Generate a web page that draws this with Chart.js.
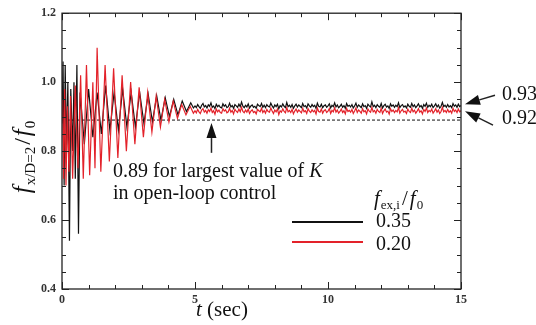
<!DOCTYPE html>
<html>
<head>
<meta charset="utf-8">
<script src="https://cdn.jsdelivr.net/npm/chart.js@4.4.1/dist/chart.umd.min.js"></script>
<style>
  html, body { margin: 0; padding: 0; background: #fff; }
  #wrap { width: 536px; height: 325px; }
</style>
</head>
<body>
<div id="wrap"><canvas id="chart"></canvas></div>
<script>
// transient part (peaks and troughs)
const blackT = [0.00,0.04,0.08,0.12,0.17,0.22,0.28,0.33,0.40,0.45,0.50,0.56,0.62,0.68,0.84,1.00,1.16,1.32,1.48,1.64,1.80,1.96,2.12,2.28,2.44,2.60,2.76,2.92,3.08,3.24,3.40,3.56,3.72,3.88,4.04,4.20,4.36,4.52,4.68,4.84,4.94];
const blackV = [0.88,1.06,0.70,1.05,0.80,1.00,0.54,0.98,0.80,1.00,0.72,1.05,0.56,0.97,0.82,0.98,0.84,0.97,0.85,0.99,0.86,0.97,0.86,0.98,0.87,0.97,0.87,0.97,0.88,0.965,0.885,0.96,0.89,0.955,0.90,0.95,0.905,0.945,0.915,0.94,0.925];
const redT = [0.02,0.06,0.10,0.15,0.20,0.26,0.32,0.40,0.50,0.60,0.70,0.80,0.92,1.04,1.16,1.24,1.32,1.46,1.62,1.78,1.94,2.10,2.26,2.42,2.58,2.74,2.90,3.06,3.22,3.38,3.54,3.70,3.86,4.02,4.18,4.34,4.50,4.66,4.82,4.94];
const redV = [0.95,0.72,0.98,0.70,0.93,0.74,0.96,0.72,0.99,0.75,1.02,0.72,1.05,0.73,1.00,0.75,1.10,0.74,1.05,0.77,1.04,0.78,1.02,0.80,1.00,0.82,0.985,0.84,0.97,0.855,0.96,0.87,0.95,0.885,0.945,0.895,0.935,0.905,0.93,0.91];

// steady part, sampled every 0.05 s from 5 s to 15 s
const steadyStart = 5.0;
const steadyStep = 0.05;
const blackSteady = [
  0.931,0.926,0.935,0.929,0.924,0.933,0.938,0.928,0.932,0.925,
  0.934,0.930,0.940,0.927,0.931,0.923,0.936,0.929,0.933,0.927,
  0.925,0.937,0.930,0.934,0.926,0.929,0.939,0.928,0.932,0.924,
  0.935,0.931,0.927,0.936,0.929,0.942,0.930,0.926,0.933,0.928,
  0.937,0.925,0.931,0.934,0.927,0.930,0.924,0.936,0.932,0.929,
  0.938,0.927,0.933,0.926,0.935,0.930,0.928,0.939,0.931,0.925,
  0.934,0.929,0.936,0.923,0.932,0.928,0.937,0.930,0.926,0.941,
  0.929,0.933,0.927,0.935,0.924,0.931,0.936,0.928,0.934,0.930,
  0.926,0.938,0.929,0.932,0.925,0.937,0.931,0.927,0.935,0.929,
  0.933,0.924,0.939,0.930,0.928,0.936,0.926,0.932,0.934,0.927,
  0.931,0.937,0.925,0.933,0.929,0.940,0.928,0.934,0.926,0.930,
  0.936,0.927,0.932,0.924,0.938,0.930,0.933,0.928,0.935,0.925,
  0.931,0.939,0.927,0.934,0.930,0.926,0.937,0.929,0.932,0.924,
  0.936,0.931,0.928,0.943,0.929,0.933,0.926,0.935,0.930,0.927,
  0.938,0.925,0.932,0.936,0.928,0.931,0.924,0.937,0.930,0.934,
  0.927,0.933,0.929,0.940,0.926,0.932,0.935,0.928,0.931,0.925,
  0.936,0.930,0.927,0.938,0.929,0.934,0.926,0.931,0.937,0.928,
  0.932,0.924,0.935,0.930,0.939,0.927,0.933,0.929,0.936,0.926,
  0.931,0.937,0.928,0.934,0.925,0.930,0.941,0.929,0.933,0.927,
  0.935,0.928,0.932,0.926,0.938,0.930,0.934,0.927,0.936,0.929,
  0.932
];
const redSteady = [
  0.917,0.911,0.921,0.914,0.909,0.919,0.923,0.913,0.918,0.910,
  0.920,0.915,0.925,0.912,0.917,0.907,0.922,0.914,0.919,0.912,
  0.910,0.923,0.916,0.920,0.911,0.914,0.924,0.913,0.918,0.908,
  0.921,0.916,0.912,0.922,0.914,0.927,0.915,0.911,0.919,0.913,
  0.922,0.909,0.916,0.920,0.912,0.915,0.908,0.921,0.917,0.914,
  0.924,0.912,0.918,0.910,0.921,0.915,0.913,0.925,0.916,0.909,
  0.919,0.914,0.922,0.906,0.917,0.913,0.923,0.915,0.911,0.926,
  0.914,0.918,0.912,0.921,0.908,0.916,0.922,0.913,0.919,0.915,
  0.911,0.924,0.914,0.917,0.909,0.923,0.916,0.912,0.920,0.914,
  0.918,0.908,0.925,0.915,0.913,0.922,0.910,0.917,0.920,0.912,
  0.916,0.923,0.909,0.918,0.914,0.926,0.913,0.919,0.910,0.915,
  0.922,0.912,0.917,0.908,0.924,0.915,0.918,0.913,0.921,0.909,
  0.916,0.925,0.912,0.919,0.915,0.910,0.923,0.914,0.917,0.908,
  0.922,0.916,0.913,0.927,0.914,0.918,0.910,0.921,0.915,0.912,
  0.924,0.909,0.917,0.922,0.913,0.916,0.907,0.923,0.915,0.919,
  0.912,0.918,0.914,0.926,0.910,0.917,0.921,0.913,0.916,0.909,
  0.922,0.915,0.912,0.924,0.914,0.919,0.910,0.916,0.923,0.913,
  0.917,0.908,0.921,0.915,0.925,0.912,0.918,0.914,0.922,0.910,
  0.916,0.923,0.913,0.919,0.909,0.915,0.927,0.914,0.918,0.912,
  0.921,0.913,0.917,0.910,0.924,0.915,0.919,0.912,0.922,0.914,
  0.917
];

const xTicks = [0, 5, 10, 15];
const yTicks = [0.4, 0.6, 0.8, 1.0, 1.2];
const openLoopRef = 0.89;
const legendLabels = ['0.35', '0.20'];
const finalLabels = ['0.93', '0.92'];

const BLACK = '#111111';
const RED = '#e3222a';
const SERIF = '"Liberation Serif", "DejaVu Serif", serif';

function toPoints(ts, vs, steady) {
  const pts = ts.map((t, i) => ({ x: t, y: vs[i] }));
  steady.forEach((v, i) => pts.push({ x: +(steadyStart + i * steadyStep).toFixed(2), y: v }));
  return pts;
}

// draws a run of text pieces (italic / subscript) starting at x
function richText(ctx, parts, x, y, align) {
  let total = 0;
  parts.forEach(p => {
    ctx.font = (p.it ? 'italic ' : '') + p.size + 'px ' + SERIF;
    p.w = ctx.measureText(p.t).width;
    total += p.w + (p.gap || 0);
  });
  let cx = align === 'center' ? x - total / 2 : x;
  ctx.textAlign = 'left';
  ctx.textBaseline = 'alphabetic';
  parts.forEach(p => {
    ctx.font = (p.it ? 'italic ' : '') + p.size + 'px ' + SERIF;
    ctx.fillText(p.t, cx, y + (p.dy || 0));
    cx += p.w + (p.gap || 0);
  });
}

function arrow(ctx, x1, y1, x2, y2, len, wid) {
  const a = Math.atan2(y2 - y1, x2 - x1);
  const bx = x2 - len * Math.cos(a), by = y2 - len * Math.sin(a);
  ctx.beginPath();
  ctx.moveTo(x1, y1);
  ctx.lineTo(bx, by);
  ctx.lineWidth = 1.5;
  ctx.stroke();
  ctx.beginPath();
  ctx.moveTo(x2, y2);
  ctx.lineTo(bx + wid / 2 * Math.sin(a), by - wid / 2 * Math.cos(a));
  ctx.lineTo(bx - wid / 2 * Math.sin(a), by + wid / 2 * Math.cos(a));
  ctx.closePath();
  ctx.fill();
}

const decor = {
  id: 'decor',
  beforeDatasetsDraw(chart) {
    const { ctx, chartArea: a, scales: { y } } = chart;
    const py = y.getPixelForValue(openLoopRef);
    ctx.save();
    ctx.strokeStyle = BLACK;
    ctx.lineWidth = 1;
    ctx.setLineDash([3, 2]);
    ctx.beginPath();
    ctx.moveTo(a.left, py);
    ctx.lineTo(a.right, py);
    ctx.stroke();
    ctx.restore();
  },
  afterDraw(chart) {
    const { ctx, chartArea: a, scales: { x, y } } = chart;
    ctx.save();
    ctx.strokeStyle = '#222';
    ctx.fillStyle = BLACK;

    // frame
    ctx.lineWidth = 1.3;
    ctx.strokeRect(a.left, a.top, a.right - a.left, a.bottom - a.top);

    // inward ticks
    ctx.lineWidth = 1;
    ctx.beginPath();
    for (let t = 0; t <= 15; t++) {
      const px = Math.round(x.getPixelForValue(t)) + 0.5;
      const l = t % 5 === 0 ? 7 : 4;
      ctx.moveTo(px, a.bottom); ctx.lineTo(px, a.bottom - l);
      ctx.moveTo(px, a.top); ctx.lineTo(px, a.top + l);
    }
    for (let k = 0; k <= 16; k++) {
      const v = 0.4 + k * 0.05;
      const py = Math.round(y.getPixelForValue(v)) + 0.5;
      const l = k % 4 === 0 ? 7 : 4;
      ctx.moveTo(a.left, py); ctx.lineTo(a.left + l, py);
      ctx.moveTo(a.right, py); ctx.lineTo(a.right - l, py);
    }
    ctx.stroke();

    // arrow to the open-loop level
    const ax = x.getPixelForValue(5.62);
    arrow(ctx, ax, y.getPixelForValue(0.795), ax, y.getPixelForValue(openLoopRef) + 3, 15, 10);

    // arrows to final levels
    arrow(ctx, a.right + 34, a.top + 82, a.right + 4, a.top + 91, 15, 10);
    arrow(ctx, a.right + 32, a.top + 112, a.right + 4, a.top + 98, 15, 10);

    ctx.fillStyle = BLACK;
    richText(ctx, [{ t: finalLabels[0], size: 20 }], a.right + 41, a.top + 87);
    richText(ctx, [{ t: finalLabels[1], size: 20 }], a.right + 41, a.top + 111);

    // annotation
    richText(ctx, [{ t: '0.89 for largest value of ', size: 20 }, { t: 'K', size: 20, it: true }], 113, 177);
    richText(ctx, [{ t: 'in open-loop control', size: 20 }], 113, 199);

    // legend
    richText(ctx, [
      { t: 'f', size: 21, it: true, gap: 1 },
      { t: 'ex,i', size: 13, dy: 4, gap: 2 },
      { t: '/', size: 21, gap: 2 },
      { t: 'f', size: 21, it: true, gap: 1 },
      { t: '0', size: 13, dy: 4 }
    ], 374, 205);
    ctx.lineWidth = 2;
    ctx.strokeStyle = BLACK;
    ctx.beginPath(); ctx.moveTo(292, 222); ctx.lineTo(363, 222); ctx.stroke();
    ctx.strokeStyle = RED;
    ctx.beginPath(); ctx.moveTo(292, 242); ctx.lineTo(363, 242); ctx.stroke();
    richText(ctx, [{ t: legendLabels[0], size: 20 }], 376, 227);
    richText(ctx, [{ t: legendLabels[1], size: 20 }], 376, 250);

    // axis titles
    richText(ctx, [{ t: 't', size: 21, it: true }, { t: ' (sec)', size: 21 }], 196, 316);
    ctx.translate(30, 157);
    ctx.rotate(-Math.PI / 2);
    richText(ctx, [
      { t: 'f', size: 25, it: true, gap: 1 },
      { t: 'x/D=2', size: 15, dy: 5, gap: 2 },
      { t: '/', size: 24, gap: 2 },
      { t: 'f', size: 25, it: true, gap: 1 },
      { t: '0', size: 15, dy: 5 }
    ], 0, 0, 'center');
    ctx.restore();
  }
};

const tickFont = { family: SERIF, size: 12, weight: 'bold' };

new Chart(document.getElementById('chart'), {
  type: 'line',
  data: {
    datasets: [
      {
        label: legendLabels[0],
        data: toPoints(blackT, blackV, blackSteady),
        borderColor: BLACK,
        borderWidth: 1.2,
        pointRadius: 0,
        tension: 0,
        order: 1
      },
      {
        label: legendLabels[1],
        data: toPoints(redT, redV, redSteady),
        borderColor: RED,
        borderWidth: 1.2,
        pointRadius: 0,
        tension: 0,
        order: 0
      }
    ]
  },
  options: {
    responsive: true,
    maintainAspectRatio: false,
    animation: false,
    layout: { padding: { top: 12, right: 75, left: 0, bottom: 0 } },
    plugins: { legend: { display: false }, tooltip: { enabled: false } },
    scales: {
      x: {
        type: 'linear',
        min: 0,
        max: 15,
        grid: { display: false, drawTicks: false },
        border: { display: false },
        afterBuildTicks: s => { s.ticks = xTicks.map(v => ({ value: v })); },
        afterFit: s => { s.height = 36; },
        ticks: { font: tickFont, color: '#333', padding: 4, maxRotation: 0 }
      },
      y: {
        min: 0.4,
        max: 1.2,
        grid: { display: false, drawTicks: false },
        border: { display: false },
        afterBuildTicks: s => { s.ticks = yTicks.map(v => ({ value: v })); },
        afterFit: s => { s.width = 62; },
        ticks: { font: tickFont, color: '#333', padding: 6, callback: v => v.toFixed(1) }
      }
    }
  },
  plugins: [decor]
});
</script>
</body>
</html>
